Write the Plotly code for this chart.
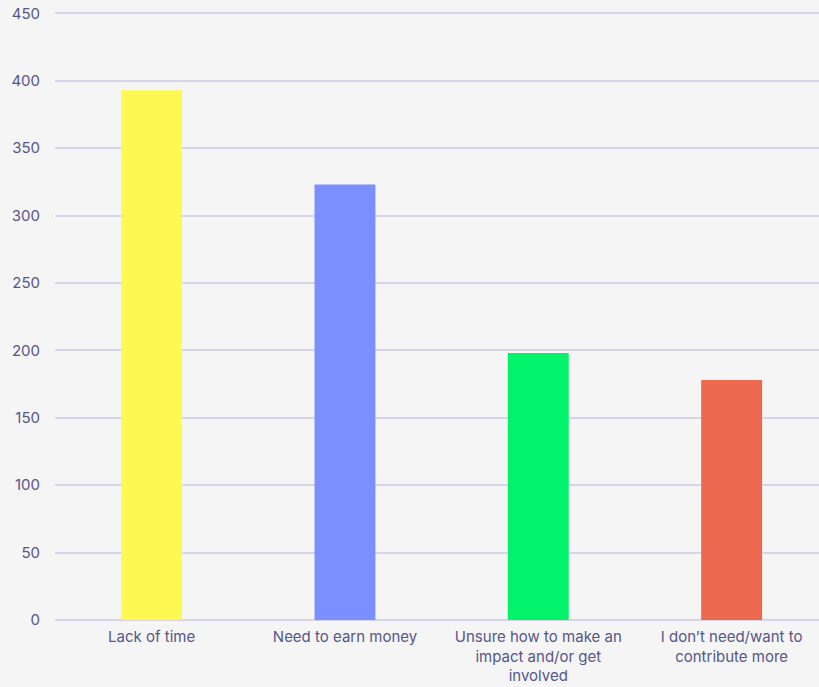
import plotly.graph_objects as go

categories = [
    "Lack of time",
    "Need to earn money",
    "Unsure how to make an<br>impact and/or get<br>involved",
    "I don’t need/want to<br>contribute more",
]
values = [393, 323, 198, 178]
bar_colors = ["#fef952", "#7b8fff", "#00f36a", "#ec694f"]
y_ticks = [0, 50, 100, 150, 200, 250, 300, 350, 400, 450]

text_color = "#56558a"
grid_color = "#d7d4e7"

fig = go.Figure(
    go.Bar(
        x=list(range(len(categories))),
        y=values,
        marker=dict(color=bar_colors, line=dict(width=0)),
        width=0.315,
        hoverinfo="skip",
    )
)

fig.update_layout(
    width=819,
    height=687,
    margin=dict(l=55, r=0, t=12, b=67),
    paper_bgcolor="#f5f5f5",
    plot_bgcolor="#f5f5f5",
    showlegend=False,
    font=dict(family="Inter, Roboto, sans-serif", color=text_color, size=14),
)

fig.update_xaxes(
    tickmode="array",
    tickvals=list(range(len(categories))),
    ticktext=categories,
    range=[-0.5, 3.452],
    showgrid=False,
    zeroline=False,
    showline=False,
    ticks="",
    tickfont=dict(size=15, color=text_color),
    ticklabelstandoff=6,
    automargin=False,
)

fig.update_yaxes(
    range=[0, 451],
    tickmode="array",
    tickvals=y_ticks,
    showgrid=True,
    gridcolor=grid_color,
    gridwidth=2,
    zeroline=True,
    zerolinecolor=grid_color,
    zerolinewidth=2,
    ticks="",
    tickfont=dict(size=15, color=text_color),
    ticklabelstandoff=14,
    automargin=False,
)

fig.write_html("out.html")
